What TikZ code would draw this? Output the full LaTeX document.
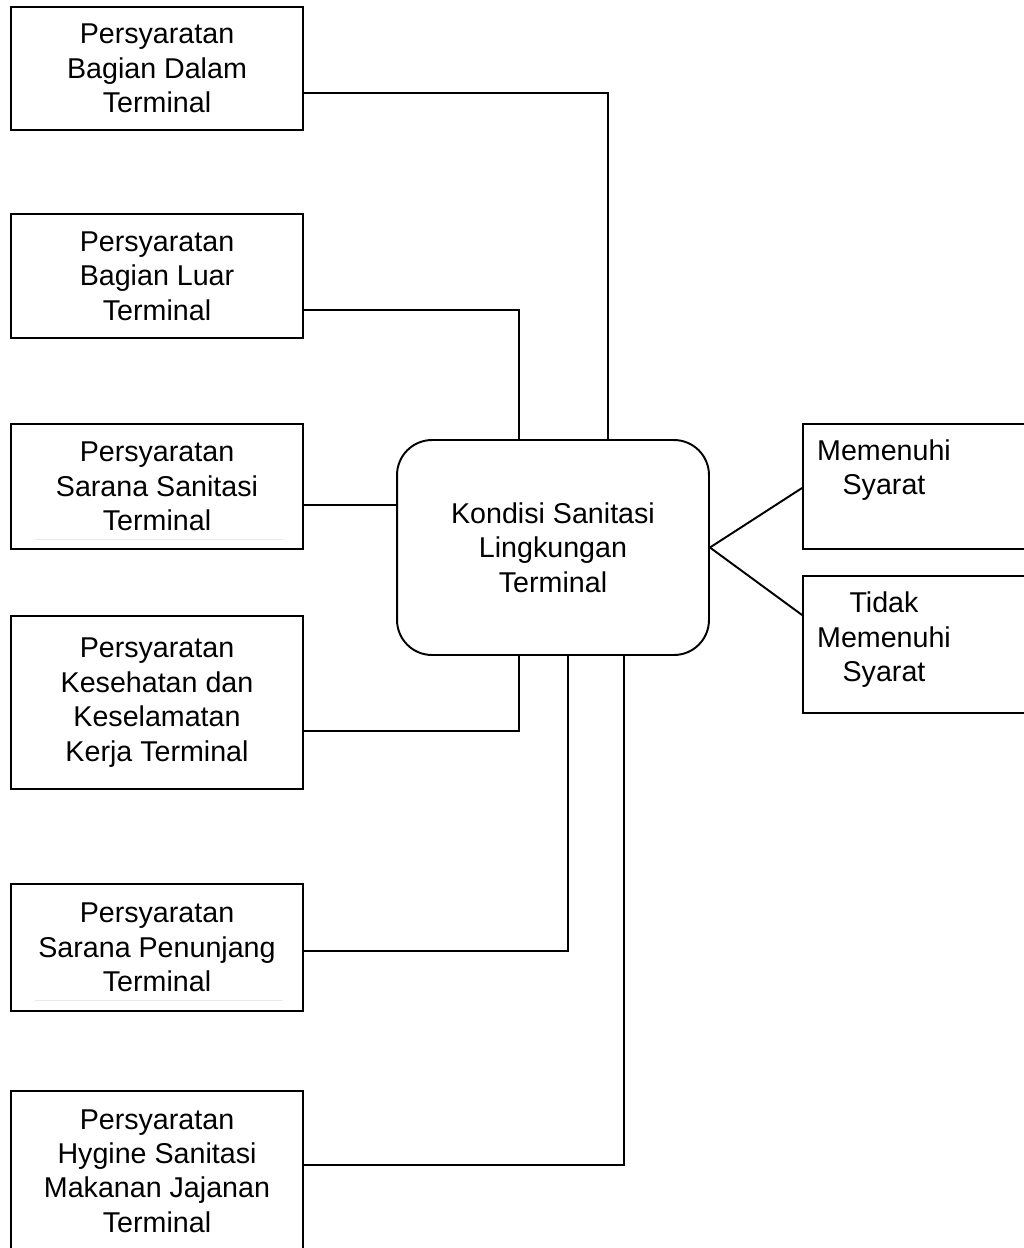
\documentclass[tikz,border=0pt]{standalone}
\usepackage{fontspec}
\setmainfont{Liberation Sans}
\usepackage{tikz}
\usetikzlibrary{calc}
\tikzset{>=stealth,
  box/.style={draw,line width=1.1pt,minimum width=5.84cm,align=center,inner sep=0pt,font=\fontsize{16.3}{19.6}\selectfont},
  kbox/.style={draw,line width=1.1pt,rounded corners=0.7cm,minimum width=6.24cm,minimum height=4.3cm,align=center,font=\fontsize{16.3}{19.6}\selectfont},
  rbox/.style={draw,line width=1.1pt,minimum width=4.74cm},
  txt/.style={align=center,inner sep=0pt,font=\fontsize{16.3}{19.6}\selectfont},
  wire/.style={line width=1.1pt}}

\begin{document}
\begin{tikzpicture}[x=0.02cm,y=-0.02cm]
\useasboundingbox (0,0) rectangle (1024,1248);
    \node[box,minimum height=2.46cm] (dalam) at (157,68.5) {Persyaratan\\Bagian Dalam\\Terminal};
    \node[box,minimum height=2.48cm] (luar) at (157,276) {Persyaratan\\Bagian Luar\\Terminal};
    \node[box,minimum height=2.5cm] (sarana) at (157,486.5) {Persyaratan\\Sarana Sanitasi\\Terminal};
    \node[box,minimum height=3.46cm] (k3) at (157,702.5) {Persyaratan\\Kesehatan dan\\Keselamatan\\Kerja Terminal};
    \node[box,minimum height=2.54cm] (penunjang) at (157,947.5) {Persyaratan\\Sarana Penunjang\\Terminal};
    \node[box,minimum height=3.2cm] (hygine) at (157,1171) {Persyaratan\\Hygine Sanitasi\\Makanan Jajanan\\Terminal};
    \node[kbox] (kondisi) at (553,547.5) {Kondisi Sanitasi\\Lingkungan\\Terminal};
    \node[rbox,minimum height=2.5cm] (ya) at (921.5,486.5) {};
    \node[rbox,minimum height=2.74cm] (tidak) at (921.5,644.5) {};
    \node[txt] (yatxt) at (884,470) {Memenuhi\\Syarat};
    \node[txt] (tidaktxt) at (884,640) {Tidak\\Memenuhi\\Syarat};
    % faint rules under two labels
    \draw[gray!18,line width=0.5pt] (35,539)--(283,539);
    \draw[gray!18,line width=0.5pt] (35,1000)--(283,1000);
    \draw[wire] (dalam.east |- 0,93) -| (kondisi.north -| 608,0);
    \draw[wire] (luar.east |- 0,310) -| (kondisi.north -| 519,0);
    \draw[wire] (sarana.east |- 0,505) -- (kondisi.west |- 0,505);
    \draw[wire] (k3.east |- 0,731) -| (kondisi.south -| 519,0);
    \draw[wire] (penunjang.east |- 0,951) -| (kondisi.south -| 568,0);
    \draw[wire] (hygine.east |- 0,1165) -| (kondisi.south -| 624,0);
    \draw[wire] (kondisi.east) -- (ya.west |- 0,488);
    \draw[wire] (kondisi.east) -- (tidak.west |- 0,615);
    \end{tikzpicture}
\end{document}
